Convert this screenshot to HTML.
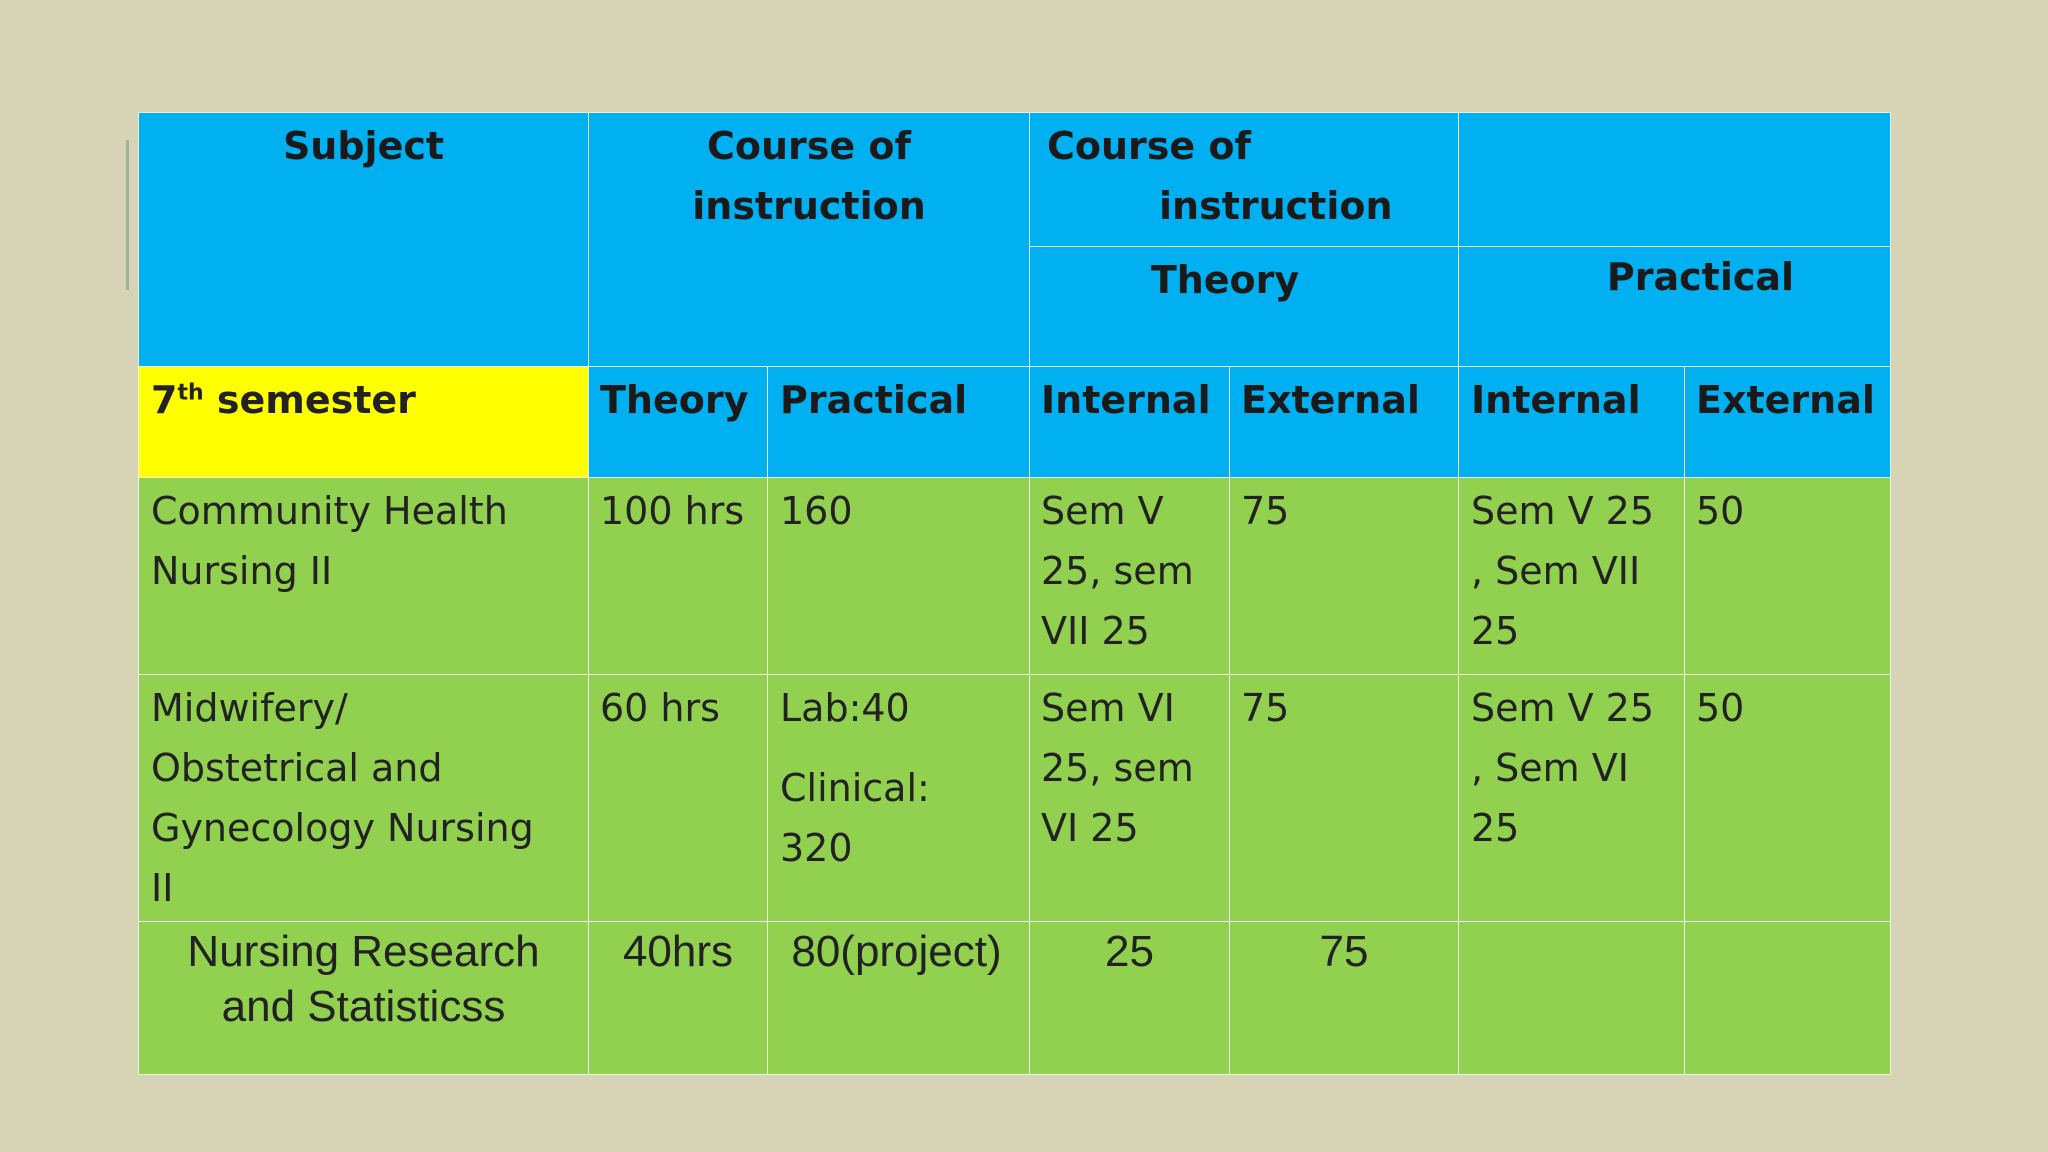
<!DOCTYPE html>
<html><head><meta charset="utf-8">
<style>
body{margin:0;width:2048px;height:1152px;background:#d7d4b6;position:relative;overflow:hidden;font-family:"DejaVu Sans","Liberation Sans",sans-serif;color:#222;}
.c{position:absolute;box-sizing:border-box;border:1.5px solid #eef5e8;font-size:38px;line-height:60px;padding:3px 12px;}
.b{background:#00b0f0;font-weight:bold;color:#1a1a1a;}
.g{background:#92d050;}
.y{background:#ffff00;font-weight:bold;}
.ctr{text-align:center;}
sup{font-size:22px;line-height:0;}
.r3{font-family:'Liberation Sans',sans-serif;font-size:44px;padding-top:0;}
</style></head><body>
<div style="position:absolute;left:126px;top:140px;width:3px;height:150px;background:#9cb49a"></div>
<div>
<div class="c b ctr" style="left:138px;top:112px;width:451px;height:255px">Subject</div>
<div class="c b ctr" style="left:588px;top:112px;width:442px;height:255px">Course of<br>instruction</div>
<div class="c b" style="left:1029px;top:112px;width:430px;height:135px;padding-left:17px">Course of<br><span style="padding-left:112px">instruction</span></div>
<div class="c b" style="left:1458px;top:112px;width:433px;height:135px"></div>
<div class="c b ctr" style="left:1029px;top:246px;width:430px;height:121px;padding-right:38px;padding-left:0">Theory</div>
<div class="c b ctr" style="left:1458px;top:246px;width:433px;height:121px;padding-top:0;padding-left:52px;padding-right:0">Practical</div>

<div class="c y" style="left:138px;top:366px;width:451px;height:112px">7<sup>th</sup> semester</div>
<div class="c b" style="left:588px;top:366px;width:180px;height:112px;padding-left:11px">Theory</div>
<div class="c b" style="left:767px;top:366px;width:263px;height:112px">Practical</div>
<div class="c b" style="left:1029px;top:366px;width:201px;height:112px;padding-left:11px">Internal</div>
<div class="c b" style="left:1229px;top:366px;width:230px;height:112px;padding-left:11px">External</div>
<div class="c b" style="left:1458px;top:366px;width:227px;height:112px;padding-left:12px">Internal</div>
<div class="c b" style="left:1684px;top:366px;width:207px;height:112px;padding-left:11px">External</div>

<div class="c g" style="left:138px;top:477px;width:451px;height:198px">Community Health Nursing II</div>
<div class="c g" style="left:588px;top:477px;width:180px;height:198px;padding-left:11px">100 hrs</div>
<div class="c g" style="left:767px;top:477px;width:263px;height:198px">160</div>
<div class="c g" style="left:1029px;top:477px;width:201px;height:198px;padding-left:11px">Sem V<br>25, sem<br>VII 25</div>
<div class="c g" style="left:1229px;top:477px;width:230px;height:198px;padding-left:11px">75</div>
<div class="c g" style="left:1458px;top:477px;width:227px;height:198px;padding-left:12px">Sem V 25<br>, Sem VII<br>25</div>
<div class="c g" style="left:1684px;top:477px;width:207px;height:198px;padding-left:11px">50</div>

<div class="c g" style="left:138px;top:674px;width:451px;height:248px">Midwifery/<br>Obstetrical and<br>Gynecology Nursing<br>II</div>
<div class="c g" style="left:588px;top:674px;width:180px;height:248px;padding-left:11px">60 hrs</div>
<div class="c g" style="left:767px;top:674px;width:263px;height:248px">Lab:40<br><span style="display:inline-block;margin-top:20px">Clinical:</span><br>320</div>
<div class="c g" style="left:1029px;top:674px;width:201px;height:248px;padding-left:11px">Sem VI<br>25, sem<br>VI 25</div>
<div class="c g" style="left:1229px;top:674px;width:230px;height:248px;padding-left:11px">75</div>
<div class="c g" style="left:1458px;top:674px;width:227px;height:248px;padding-left:12px">Sem V 25<br>, Sem VI<br>25</div>
<div class="c g" style="left:1684px;top:674px;width:207px;height:248px;padding-left:11px">50</div>

<div class="c g ctr r3" style="left:138px;top:921px;width:451px;height:154px;line-height:55px;padding-top:2px">Nursing Research and Statisticss</div>
<div class="c g ctr r3" style="left:588px;top:921px;width:180px;height:154px">40hrs</div>
<div class="c g ctr r3" style="left:767px;top:921px;width:263px;height:154px;padding-left:0;padding-right:4px">80(project)</div>
<div class="c g ctr r3" style="left:1029px;top:921px;width:201px;height:154px">25</div>
<div class="c g ctr r3" style="left:1229px;top:921px;width:230px;height:154px">75</div>
<div class="c g" style="left:1458px;top:921px;width:227px;height:154px"></div>
<div class="c g" style="left:1684px;top:921px;width:207px;height:154px"></div>
</div>
</body></html>
